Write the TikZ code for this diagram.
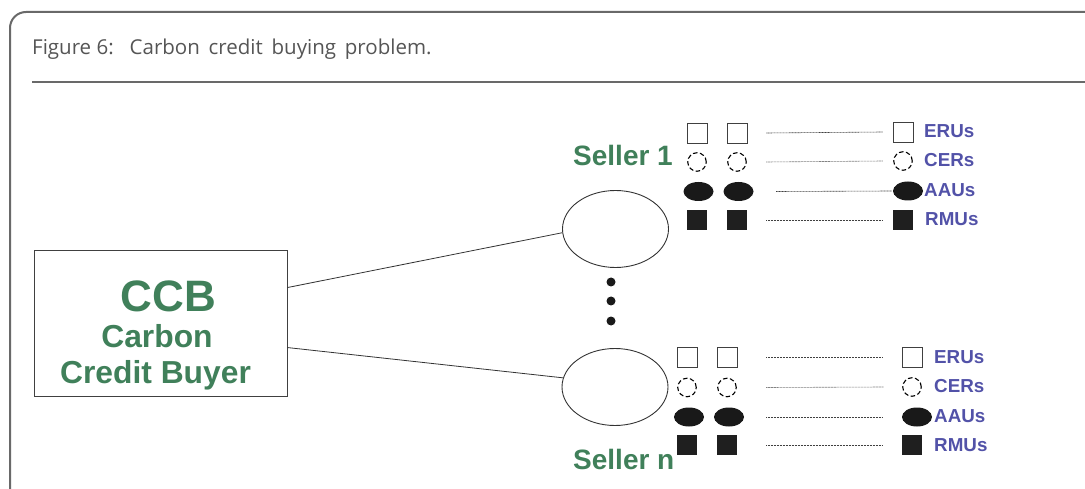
\documentclass[tikz,border=0pt]{standalone}
\usepackage{fontspec}
\setmainfont{Liberation Sans}
\newfontfamily\capfont{Open Sans}
\usetikzlibrary{shapes.geometric,calc}
\definecolor{framegray}{RGB}{105,105,105}
\definecolor{capgray}{RGB}{85,85,85}
\definecolor{ccbgreen}{RGB}{64,128,90}
\definecolor{lblblue}{RGB}{82,82,168}
\begin{document}
\begin{tikzpicture}[x=1pt,y=-1pt,
  boxst/.style={draw=black!75,line width=0.9pt,inner sep=0pt,rectangle},
  ell/.style={ellipse,draw=black!80,line width=0.9pt,inner sep=0pt,minimum width=106pt,minimum height=77pt},
  conn/.style={draw=black!80,line width=0.8pt},
  dotst/.style={circle,fill=black!90,inner sep=0pt,minimum size=9pt},
  osq/.style={rectangle,draw=black!75,line width=0.9pt,fill=white,inner sep=0pt,minimum size=20pt},
  dcirc/.style={circle,draw=black,line width=1.1pt,dash pattern=on 4.5pt off 2.5pt,inner sep=0pt,minimum size=18.5pt},
  fell/.style={ellipse,fill=black!90,inner sep=0pt,minimum width=30pt,minimum height=19pt},
  fsq/.style={rectangle,fill=black!88,inner sep=0pt,minimum size=20pt},
  dotl/.style={draw=black!75,line width=0.6pt,dash pattern=on 0.8pt off 0.7pt},
  lbl/.style={anchor=west,inner sep=0pt,text=lblblue,font=\fontsize{18.8}{18.8}\selectfont\bfseries},
  seller/.style={anchor=base west,inner sep=0pt,text=ccbgreen,font=\fontsize{28}{28}\selectfont\bfseries},
  ccbtxt/.style={anchor=base,inner sep=0pt,text=ccbgreen,font=\fontsize{31.8}{31.8}\selectfont\bfseries}
]
\useasboundingbox (0,0) rectangle (1085,489);
\begin{scope}
\clip (0,0) rectangle (1085,489);
\draw[framegray,line width=2pt,rounded corners=16pt] (10,540) -- (10,12) -- (1120,12);
\end{scope}
\draw[framegray,line width=1.2pt] (32,82) -- (1085,82);
\node[anchor=base west,inner sep=0pt,text=capgray,font=\capfont\fontsize{20.5}{20.5}\selectfont] (cap) at (32,55) {Figure 6:\ \ \ Carbon\ \,credit\ \,buying\ \,problem.};

% CCB box
\node[boxst,minimum width=253pt,minimum height=146pt] (ccb) at (160.5,323) {};
\node[ccbtxt,font=\fontsize{44}{44}\selectfont\bfseries] (ccbA) at (168.5,312) {CCB};
\node[ccbtxt] (ccbB) at (157,347) {Carbon};
\node[ccbtxt] (ccbC) at (155.5,383) {Credit Buyer};

% sellers
\node[ell] (s1) at (615.5,229) {};
\node[ell] (s2) at (615,387) {};
\node[dotst] (d1) at (611,282) {};
\node[dotst] (d2) at (611,301) {};
\node[dotst] (d3) at (611,321) {};
\draw[conn] ($(ccb.north east)+(0,38)$) -- (s1.184);
\draw[conn] ($(ccb.north east)+(0,98)$) -- (s2.170);
\node[seller] (sl1) at (573,166) {Seller 1};
\node[seller] (sln) at (573,469) {Seller n};

% top block
\foreach \c/\x in {1/697,2/737}{
  \node[osq] (t\c1) at (\x,133) {};
  \node[dcirc] (t\c2) at (\x,162) {};
  \node[fell] (t\c3) at (\x+1.5,191.5) {};
  \node[fsq] (t\c4) at (\x,220) {};
}
\node[osq] (tl1) at (903,132) {};
\node[dcirc] (tl2) at (903,161) {};
\node[fell] (tl3) at (908,191) {};
\node[fsq] (tl4) at (903,220) {};
\node[lbl] (tt1) at (924,131) {ERUs};
\node[lbl] (tt2) at (924,160) {CERs};
\node[lbl] (tt3) at (924,190) {AAUs};
\node[lbl] (tt4) at (925,219) {RMUs};
\draw[dotl] ([xshift=19pt]t21.east) -- ([xshift=-10pt]tl1.west);
\draw[dotl] ([xshift=19.5pt]t22.east) -- ([xshift=-10.5pt]tl2.west);
\draw[dotl] ([xshift=22.5pt]t23.east) -- ([xshift=-1pt]tl3.west);
\draw[dotl] ([xshift=19pt]t24.east) -- ([xshift=-10pt]tl4.west);

% bottom block
\foreach \c/\x in {1/687,2/727}{
  \node[osq] (b\c1) at (\x,357) {};
  \node[dcirc] (b\c2) at (\x,387.5) {};
  \node[fell] (b\c3) at (\x+2,417) {};
  \node[fsq] (b\c4) at (\x,445) {};
}
\node[osq] (bl1) at (912,357) {};
\node[dcirc] (bl2) at (912,387) {};
\node[fell] (bl3) at (917,417) {};
\node[fsq] (bl4) at (912,445) {};
\node[lbl] (bt1) at (934,357) {ERUs};
\node[lbl] (bt2) at (934,386) {CERs};
\node[lbl] (bt3) at (934,416) {AAUs};
\node[lbl] (bt4) at (934,445) {RMUs};
\draw[dotl] ([xshift=29pt]b21.east) -- ([xshift=-19pt]bl1.west);
\draw[dotl] ([xshift=29.5pt]b22.east) -- ([xshift=-18.5pt]bl2.west);
\draw[dotl] ([xshift=22pt]b23.east) -- ([xshift=-19pt]bl3.west);
\draw[dotl] ([xshift=29pt]b24.east) -- ([xshift=-19pt]bl4.west);
\end{tikzpicture}
\end{document}
